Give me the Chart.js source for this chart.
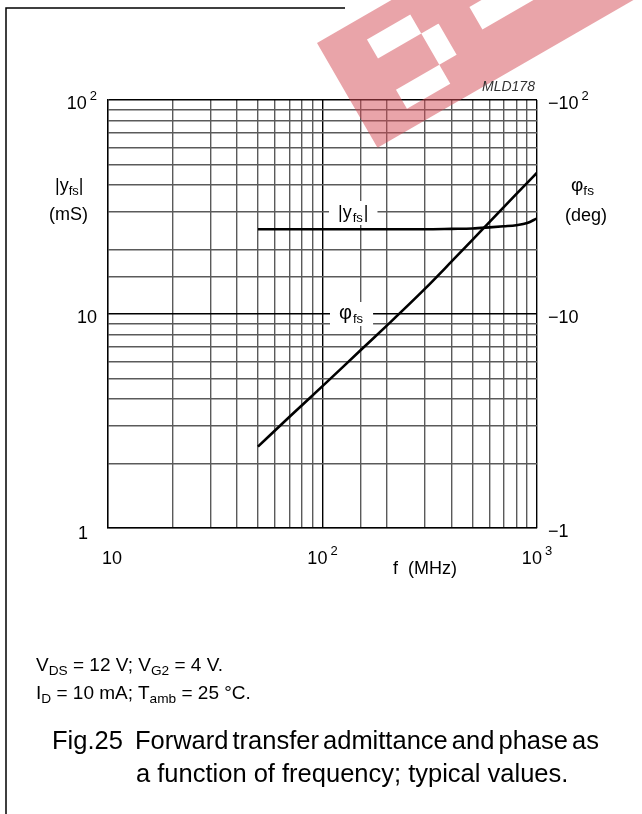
<!DOCTYPE html>
<html>
<head>
<meta charset="utf-8">
<script src="https://cdn.jsdelivr.net/npm/chart.js@4.4.1/dist/chart.umd.min.js"></script>
<style>
  body { margin: 0; background: #fff; }
  #wrap { position: relative; width: 642px; height: 814px; overflow: hidden; }
  #c { position: absolute; left: 0; top: 0; }
  .t { position: absolute; font-family: "Liberation Sans", Arial, sans-serif; color: #000; white-space: nowrap; line-height: 1; }
  .t sub { font-size: 0.72em; vertical-align: 0; position: relative; top: 0.3em; }
</style>
</head>
<body>
<div id="wrap">
  <canvas id="c" width="642" height="814"></canvas>
  <div class="t" style="left:482px; top:79px; font-size:14px; font-style:italic; color:#333;">MLD178</div>
  <div class="t" style="left:55px; top:176px; font-size:18px;">|y<sub>fs</sub>|</div>
  <div class="t" style="left:49px; top:205px; font-size:18px;">(mS)</div>
  <div class="t" style="left:571px; top:175px; font-size:19px;">φ<sub>fs</sub></div>
  <div class="t" style="left:565px; top:206px; font-size:18px;">(deg)</div>
  <div class="t" style="left:393px; top:559px; font-size:18px;">f&nbsp; (MHz)</div>
  <div class="t" style="left:36px; top:655px; font-size:19px;">V<sub>DS</sub> = 12 V; V<sub>G2</sub> = 4 V.</div>
  <div class="t" style="left:36px; top:683px; font-size:19px;">I<sub>D</sub> = 10 mA; T<sub>amb</sub> = 25 °C.</div>
  <div class="t" style="left:52px; top:728px; font-size:25.5px;"><span>Fig.25</span><span style="display:inline-block; width:12px;"></span><span style="word-spacing:-3px;">Forward transfer admittance and phase as</span></div>
  <div class="t" style="left:136px; top:761px; font-size:25.5px;">a function of frequency; typical values.</div>
</div>
<script>
// (f in MHz, |yfs| in mS, phase in degrees)
const freqMHz = [50, 70, 100, 150, 200, 300, 400, 500, 600, 700, 800, 900, 1000];
const yfsMS = [24.9, 24.9, 24.9, 24.9, 24.9, 24.9, 25.0, 25.1, 25.4, 25.7, 26.0, 26.6, 28.0];
const phiDeg = [-2.4, -3.3, -4.6, -6.75, -8.85, -13.1, -17.6, -22.2, -26.9, -31.6, -36.3, -41.0, -45.7];

const xTicks = [10, 100, 1000];
const xTickLabels = [["10", ""], ["10", "2"], ["10", "3"]];
const yTicks = [1, 10, 100];
const yLeftLabels = [["1", ""], ["10", ""], ["10", "2"]];
const yRightLabels = [["\u22121", ""], ["\u221210", ""], ["\u221210", "2"]];

const FONT = '"Liberation Sans", Arial, sans-serif';

function isDecade(v) {
  const l = Math.log10(v);
  return Math.abs(l - Math.round(l)) < 1e-6;
}

function drawSup(ctx, base, sup, x, y, align) {
  ctx.font = "18px " + FONT;
  const wb = ctx.measureText(base).width;
  ctx.font = "13px " + FONT;
  const ws = sup ? ctx.measureText(sup).width + 3 : 0;
  let x0 = x;
  if (align === "right") x0 = x - wb - ws;
  if (align === "center") x0 = x - (wb + ws) / 2;
  ctx.textAlign = "left";
  ctx.textBaseline = "alphabetic";
  ctx.font = "18px " + FONT;
  ctx.fillText(base, x0, y);
  if (sup) {
    ctx.font = "13px " + FONT;
    ctx.fillText(sup, x0 + wb + 3, y - 9);
  }
}

function curveLabel(ctx, main, sub, x, y, size) {
  ctx.font = size + "px " + FONT;
  const wm = ctx.measureText(main[0]).width;
  ctx.font = "13px " + FONT;
  const wsub = ctx.measureText(sub).width;
  ctx.font = "18px " + FONT;
  const wt = main[1] ? ctx.measureText(main[1]).width : 0;
  const w = wm + wsub + wt + 2;
  ctx.fillStyle = "#fff";
  ctx.fillRect(x - 9, y - 17, w + 18, 24);
  ctx.fillStyle = "#000";
  ctx.textAlign = "left";
  ctx.textBaseline = "alphabetic";
  ctx.font = size + "px " + FONT;
  ctx.fillText(main[0], x, y);
  ctx.font = "13px " + FONT;
  ctx.fillText(sub, x + wm + 1, y + 4);
  if (main[1]) {
    ctx.font = "18px " + FONT;
    ctx.fillText(main[1], x + wm + wsub + 2, y);
  }
}

const labelsPlugin = {
  id: "labels",
  beforeDatasetsDraw(chart) {
    const ctx = chart.ctx;
    ctx.save();
    curveLabel(ctx, ["|y", "|"], "fs", 338, 218, 18);
    curveLabel(ctx, ["\u03c6", ""], "fs", 339, 319, 20);
    ctx.restore();
  },
  afterDraw(chart) {
    const ctx = chart.ctx;
    const x = chart.scales.x, y = chart.scales.y, a = chart.chartArea;
    ctx.save();
    ctx.fillStyle = "#000";
    xTicks.forEach((v, i) => {
      drawSup(ctx, xTickLabels[i][0], xTickLabels[i][1], x.getPixelForValue(v) + (i === 0 ? 4 : 0), a.bottom + 36, "center");
    });
    yTicks.forEach((v, i) => {
      const py = y.getPixelForValue(v) + 9;
      // the "1" sits further left than the other left labels
      drawSup(ctx, yLeftLabels[i][0], yLeftLabels[i][1], a.left - (i === 0 ? 20 : 11), py + (i === 0 ? 2 : 0), "right");
      drawSup(ctx, yRightLabels[i][0], yRightLabels[i][1], a.right + 11, py, "left");
    });

    // page frame (the watermark hides the rest of the top rule)
    ctx.strokeStyle = "#000";
    ctx.lineWidth = 1.5;
    ctx.beginPath();
    ctx.moveTo(6, 814);
    ctx.lineTo(6, 8);
    ctx.lineTo(345, 8);
    ctx.stroke();

    // watermark
    ctx.translate(317, 43);
    ctx.rotate(-Math.PI / 6);
    ctx.beginPath();
    ctx.rect(0, 0, 420, 121);
    ctx.rect(45, 22, 70, 22);
    ctx.rect(95, 22, 20, 80);
    ctx.rect(45, 80, 70, 22);
    ctx.rect(150, 45, 85, 26);
    ctx.rect(145, 8, 55, 18);
    ctx.fillStyle = "rgba(211, 73, 83, 0.5)";
    ctx.fill("evenodd");
    ctx.restore();
  }
};

function gridColor(c) {
  return isDecade(c.tick.value) ? "#000" : "#5a5a5a";
}

new Chart(document.getElementById("c"), {
  type: "line",
  data: {
    labels: freqMHz,
    datasets: [
      {
        label: "|yfs| (mS)",
        data: freqMHz.map((f, i) => ({ x: f, y: yfsMS[i] })),
        borderColor: "#000",
        borderWidth: 2.6,
        pointRadius: 0,
        cubicInterpolationMode: "monotone",
        yAxisID: "y",
      },
      {
        label: "phi fs (deg)",
        // right axis is labelled -1 .. -100, so plot the magnitude
        data: freqMHz.map((f, i) => ({ x: f, y: -phiDeg[i] })),
        borderColor: "#000",
        borderWidth: 2.6,
        pointRadius: 0,
        cubicInterpolationMode: "monotone",
        yAxisID: "y2",
      },
    ],
  },
  options: {
    responsive: false,
    devicePixelRatio: 1,
    animation: false,
    events: [],
    layout: { padding: { left: 108, top: 100, right: 105, bottom: 286 } },
    plugins: { legend: { display: false }, tooltip: { enabled: false } },
    scales: {
      x: {
        type: "logarithmic",
        min: 10,
        max: 1000,
        ticks: { display: false },
        grid: { color: gridColor, lineWidth: 1.4, drawTicks: false },
        border: { color: "#000", width: 1.3 },
      },
      y: {
        type: "logarithmic",
        min: 1,
        max: 100,
        ticks: { display: false },
        grid: { color: gridColor, lineWidth: 1.4, drawTicks: false },
        border: { color: "#000", width: 1.3 },
      },
      y2: {
        type: "logarithmic",
        position: "right",
        display: false,
        min: 1,
        max: 100,
      },
    },
  },
  plugins: [labelsPlugin],
});
</script>
</body>
</html>
